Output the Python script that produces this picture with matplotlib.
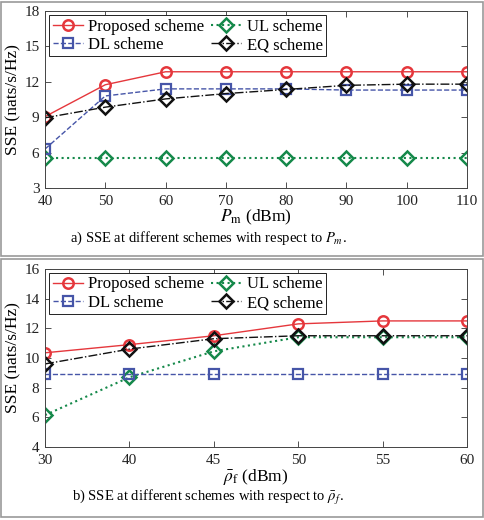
import matplotlib
matplotlib.use("Agg")
import matplotlib.pyplot as plt
from matplotlib.patches import Rectangle

plt.rcParams['font.family'] = ['Liberation Serif', 'DejaVu Serif']
plt.rcParams['mathtext.fontset'] = 'stix'

# Panel a data
pm = [40, 50, 60, 70, 80, 90, 100, 110]
a_proposed = [9.05, 11.75, 12.85, 12.85, 12.85, 12.85, 12.85, 12.85]
a_dl = [6.3, 10.8, 11.4, 11.4, 11.4, 11.3, 11.3, 11.3]
a_ul = [5.55, 5.55, 5.55, 5.55, 5.55, 5.55, 5.55, 5.55]
a_eq = [8.95, 9.85, 10.55, 11.0, 11.35, 11.7, 11.8, 11.8]

# Panel b data (categorical x)
rho_labels = ['30', '40', '45', '50', '55', '60']
b_proposed = [10.35, 10.9, 11.5, 12.3, 12.5, 12.5]
b_dl = [8.95, 8.95, 8.95, 8.95, 8.95, 8.95]
b_ul = [6.15, 8.7, 10.45, 11.4, 11.4, 11.4]
b_eq = [9.6, 10.6, 11.3, 11.5, 11.5, 11.5]

RED = '#e5373c'
BLUE = '#4655a8'
GREEN = '#15894a'
BLACK = '#111111'

fig = plt.figure(figsize=(4.84, 5.2), dpi=100)

# panel frames
for (y0, h) in [(0.507, 0.490), (0.006, 0.495)]:
    fig.patches.append(Rectangle((0.003, y0), 0.994, h, transform=fig.transFigure,
                                 fill=False, edgecolor='#999999', lw=1.2))

W, H = 484, 520
def ax_rect(l, t, r, b):
    return [l / W, 1 - b / H, (r - l) / W, (b - t) / H]

ax1 = fig.add_axes(ax_rect(45, 11, 467, 188))
ax2 = fig.add_axes(ax_rect(45, 269, 467, 447))

def style(ax):
    ax.tick_params(direction='in', top=True, right=True, labelsize=11, length=4, width=0.6,
                   colors='#333333', labelcolor='#222222')
    ax.tick_params(axis='x', pad=5)
    ax.tick_params(axis='y', pad=4)
    for s in ax.spines.values():
        s.set_linewidth(0.7)
        s.set_color('#444444')

mk_o = dict(marker='o', markersize=7.5, markeredgewidth=1.8, markerfacecolor='none')
mk_s = dict(marker='s', markersize=6.5, markeredgewidth=1.6, markerfacecolor='none')
mk_d = dict(marker='D', markersize=7, markeredgewidth=1.8, markerfacecolor='none')

def draw(ax, x, p, ul, dl, eq):
    ax.plot(x, p, '-', color=RED, markeredgecolor=RED, lw=1.0, label='Proposed scheme', **mk_o)
    ax.plot(x, ul, ':', color=GREEN, markeredgecolor=GREEN, lw=1.5, label='UL scheme', **mk_d)
    ax.plot(x, dl, '--', color=BLUE, markeredgecolor=BLUE, lw=1.0, label='DL scheme', **mk_s)
    ax.plot(x, eq, '-.', color=BLACK, markeredgecolor=BLACK, lw=1.0, label='EQ scheme', **mk_d)
    h, l = ax.get_legend_handles_labels()
    order = [0, 2, 1, 3]
    leg = ax.legend([h[i] for i in order], [l[i] for i in order], ncol=2, loc='upper left',
                    fontsize=12, frameon=True, fancybox=False, edgecolor='#222222', framealpha=1,
                    borderpad=0.2, handlelength=1.8, handletextpad=0.35, columnspacing=0.4,
                    labelspacing=0.15, borderaxespad=0.25)
    leg.get_frame().set_linewidth(0.7)

draw(ax1, pm, a_proposed, a_ul, a_dl, a_eq)
ax1.set_xlim(40, 110)
ax1.set_ylim(3, 18)
ax1.set_xticks(pm)
ax1.set_yticks([3, 6, 9, 12, 15, 18])
ax1.set_ylabel('SSE (nats/s/Hz)', fontsize=12.5, labelpad=2)
ax1.set_xlabel(r'$P_{\mathrm{m}}$ (dBm)', fontsize=12.5, labelpad=0)
style(ax1)

xb = list(range(len(rho_labels)))
draw(ax2, xb, b_proposed, b_ul, b_dl, b_eq)
ax2.set_xlim(0, len(rho_labels) - 1)
ax2.set_ylim(4, 16)
ax2.set_xticks(xb)
ax2.set_xticklabels(rho_labels)
ax2.set_yticks([4, 6, 8, 10, 12, 14, 16])
ax2.set_ylabel('SSE (nats/s/Hz)', fontsize=12.5, labelpad=2)
ax2.set_xlabel(r'$\bar{\rho}_{\mathrm{f}}$ (dBm)', fontsize=12.5, labelpad=0)
style(ax2)

fig.text(208 / W, 1 - 238 / H, r'a) SSE at different schemes with respect to $P_m$.',
         ha='center', va='center', fontsize=10.5)
fig.text(208 / W, 1 - 497 / H, r'b) SSE at different schemes with respect to $\bar{\rho}_f$.',
         ha='center', va='center', fontsize=10.5)

fig.savefig('out.png', dpi=100)
